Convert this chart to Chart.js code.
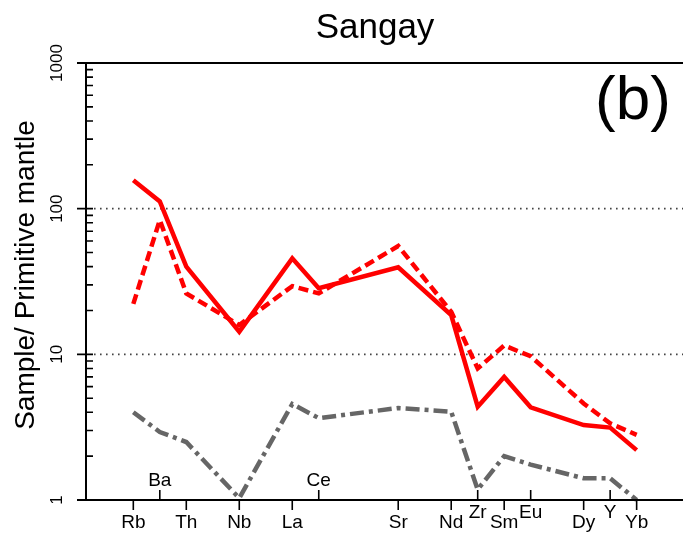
<!DOCTYPE html>
<html>
<head>
<meta charset="utf-8">
<title>Sangay</title>
<script src="https://cdn.jsdelivr.net/npm/chart.js@4.4.1/dist/chart.umd.min.js"></script>
<style>
    html, body { margin: 0; padding: 0; background: #fff; }
    #wrap { width: 683px; height: 538px; }
</style>
</head>
<body>
<div id="wrap"><canvas id="spider"></canvas></div>
<script>
// Dados
const elementNames = ['Rb', 'Ba', 'Th', 'Nb', 'La', 'Ce', 'Sr', 'Nd', 'Zr', 'Sm', 'Eu', 'Dy', 'Y', 'Yb'];
const elementSlots = [0, 1, 2, 4, 6, 7, 10, 12, 13, 14, 15, 17, 18, 19];
const labelRows = ['low', 'up', 'low', 'low', 'low', 'up', 'low', 'low', 'mid', 'low', 'mid', 'low', 'mid', 'low'];
const sangaySolid = [157, 112, 40, 14.3, 45.6, 28.4, 39.6, 18.6, 4.37, 7.0, 4.33, 3.27, 3.14, 2.2];
const sangayDashed = [22.2, 83.6, 26.2, 15.9, 29.4, 26.2, 55.4, 19.6, 8.0, 11.5, 9.7, 4.6, 3.36, 2.8];
const sangayGrey = [4.0, 2.93, 2.5, 1.03, 4.56, 3.65, 4.28, 4.04, 1.18, 2.0, 1.75, 1.41, 1.41, 1.0];
const yTickValues = [1, 10, 100, 1000];
const dottedLevels = [10, 100];

const FONT = '"Liberation Sans", Arial, sans-serif';

const toPoints = (values) => values.map((v, i) => ({ x: elementSlots[i], y: v }));

// Desenha eixos, rótulos e textos por cima das escalas do Chart.js
const axesPlugin = {
    id: 'spiderAxes',
    beforeDatasetsDraw(chart) {
        const { ctx, chartArea, scales } = chart;
        const y = scales.y;
        ctx.save();
        ctx.strokeStyle = '#444';
        ctx.lineWidth = 1.6;
        ctx.setLineDash([1.6, 4.4]);
        dottedLevels.forEach((v) => {
            const py = y.getPixelForValue(v);
            ctx.beginPath();
            ctx.moveTo(chartArea.left + 8, py);
            ctx.lineTo(chartArea.right, py);
            ctx.stroke();
        });
        ctx.restore();
    },
    afterDraw(chart) {
        const { ctx, chartArea, scales } = chart;
        const x = scales.x;
        const y = scales.y;
        const left = chartArea.left;
        const bottom = chartArea.bottom;

        ctx.save();
        ctx.strokeStyle = '#000';
        ctx.fillStyle = '#000';
        ctx.lineWidth = 2;

        // eixo y e linha do topo
        ctx.beginPath();
        ctx.moveTo(left, chartArea.top);
        ctx.lineTo(left, bottom);
        ctx.moveTo(left - 9, chartArea.top);
        ctx.lineTo(chartArea.right, chartArea.top);
        ctx.moveTo(left - 9, bottom);
        ctx.lineTo(chartArea.right, bottom);
        ctx.stroke();

        // marcas maiores e menores (log)
        ctx.lineWidth = 1.6;
        ctx.beginPath();
        yTickValues.forEach((v, k) => {
            const py = y.getPixelForValue(v);
            ctx.moveTo(left - 9, py);
            ctx.lineTo(left + 7, py);
            if (k < yTickValues.length - 1) {
                for (let m = 2; m <= 9; m++) {
                    const pm = y.getPixelForValue(v * m);
                    ctx.moveTo(left, pm);
                    ctx.lineTo(left + 7, pm);
                }
            }
        });
        ctx.stroke();

        // rótulos do eixo y (girados)
        ctx.font = '17px ' + FONT;
        ctx.textAlign = 'center';
        ctx.textBaseline = 'middle';
        yTickValues.forEach((v) => {
            ctx.save();
            ctx.translate(57, y.getPixelForValue(v));
            ctx.rotate(-Math.PI / 2);
            ctx.fillText(String(v), 0, 0);
            ctx.restore();
        });

        // marcas e rótulos dos elementos
        ctx.lineWidth = 1.6;
        ctx.font = '19px ' + FONT;
        elementNames.forEach((name, i) => {
            const px = x.getPixelForValue(elementSlots[i]);
            const row = labelRows[i];
            ctx.beginPath();
            ctx.moveTo(px, bottom);
            ctx.lineTo(px, row === 'low' ? bottom + 10 : bottom - 10);
            ctx.stroke();
            let ty = bottom + 23;
            if (row === 'mid') ty = bottom + 13;
            if (row === 'up') ty = bottom - 19;
            ctx.fillText(name, px, ty);
        });

        // título do eixo y
        ctx.save();
        ctx.font = '28px ' + FONT;
        ctx.translate(26, 275);
        ctx.rotate(-Math.PI / 2);
        ctx.fillText('Sample/ Primitive mantle', 0, 0);
        ctx.restore();

        // título e painel
        ctx.font = '35px ' + FONT;
        ctx.fillText('Sangay', 375, 28);
        ctx.font = '62px ' + FONT;
        ctx.fillText('(b)', 633, 102);
        ctx.restore();
    }
};

const App = {
    init() {
        const ctx = document.getElementById('spider').getContext('2d');
        new Chart(ctx, {
            type: 'line',
            data: {
                datasets: [{
                    data: toPoints(sangayGrey),
                    borderColor: '#666666',
                    borderWidth: 4.5,
                    borderDash: [14, 5, 4, 5],
                    clip: false
                }, {
                    data: toPoints(sangayDashed),
                    borderColor: '#ff0000',
                    borderWidth: 4.5,
                    borderDash: [10, 5],
                    clip: false
                }, {
                    data: toPoints(sangaySolid),
                    borderColor: '#ff0000',
                    borderWidth: 4.5,
                    clip: false
                }]
            },
            options: {
                responsive: true,
                maintainAspectRatio: false,
                animation: false,
                layout: { padding: { left: 86, right: 0, top: 63, bottom: 38 } },
                elements: { point: { radius: 0 }, line: { tension: 0 } },
                scales: {
                    x: { type: 'linear', min: -1.786, max: 20.75, display: false },
                    y: { type: 'logarithmic', min: 1, max: 1000, display: false }
                },
                plugins: {
                    legend: { display: false },
                    tooltip: { enabled: false },
                    title: { display: false }
                }
            },
            plugins: [axesPlugin]
        });
    }
};

document.addEventListener('DOMContentLoaded', () => {
    App.init();
});
</script>
</body>
</html>
